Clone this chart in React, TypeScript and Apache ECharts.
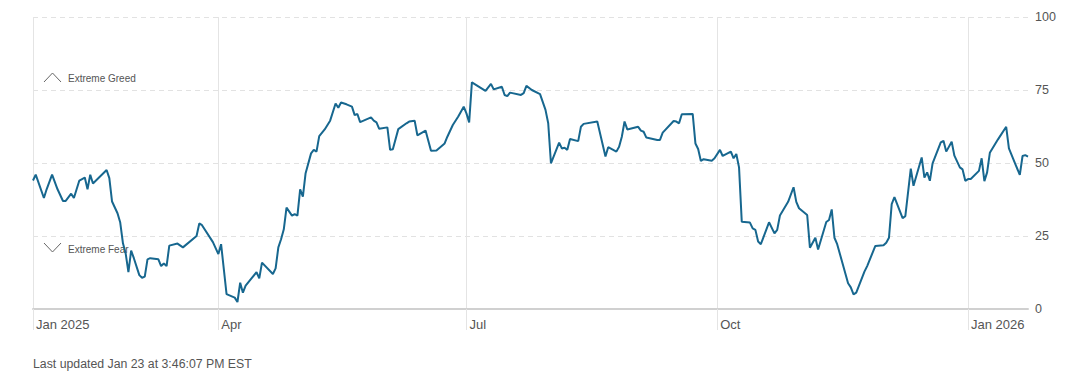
import React, { useEffect, useRef } from "react";
import * as echarts from "echarts";

const FONT = "'Liberation Sans', Arial, Helvetica, sans-serif";
const LINE_COLOR = "#17678f";

// Fear & Greed index, one value per listed date
const jan25Days = [23, 24, 27, 28, 30];
const jan25Vals = [44, 46, 38, 41, 46];
const febDays = [1, 3, 4, 6, 7, 9, 11, 12, 13, 14, 19, 20, 21, 23, 24, 25, 26, 27, 28];
const febVals = [41, 37, 37, 39.5, 38, 44, 45, 41, 46, 43, 47.6, 44.8, 36.8, 32.8, 29.6, 22.5, 19, 12.6, 20];
const marDays = [1, 3, 4, 5, 6, 7, 10, 11, 12, 13, 14, 17, 19, 24, 25, 26, 30];
const marVals = [17.4, 11.6, 10.7, 11.1, 17, 17.4, 17, 14.7, 15.6, 14.7, 21.7, 22.4, 21.1, 25, 29.3, 28.7, 22.9];
const aprDays = [1, 2, 4, 7, 8, 9, 10, 11, 13, 15, 16, 17, 21, 22, 23, 24, 25, 26, 28, 29, 30];
const aprVals = [18.8, 22.2, 5.1, 3.9, 2.4, 9, 5.6, 8, 10.3, 12.6, 10.5, 15.9, 12, 13.9, 21.1, 23.9, 27.3, 34.7, 32, 32.5, 32];
const mayDays = [1, 2, 3, 5, 6, 7, 8, 10, 12, 14, 15, 16, 18, 20, 21, 22, 23, 27, 28, 29, 30];
const mayVals = [41, 38.5, 46.5, 53.3, 54.5, 53.9, 59.2, 61.5, 64.5, 70.4, 68.9, 70.7, 70.1, 69.3, 66.4, 66.8, 64, 65.6, 64.5, 63.9, 61.7];
const junDays = [2, 3, 4, 6, 9, 10, 12, 13, 16, 18, 20, 23, 24, 26, 28, 30];
const junVals = [62.2, 54.5, 54.7, 61.6, 63.6, 64.2, 64.5, 59.5, 61.1, 54.2, 54.3, 56.7, 59, 63, 65.9, 69.3];
const julDays = [1, 2, 3, 8, 10, 11, 14, 15, 16, 17, 21, 22, 23, 25, 28, 30, 31];
const julVals = [67, 63.9, 77.6, 74.7, 77.1, 75.2, 76.1, 73.3, 72.9, 74.1, 73.3, 73.9, 76.4, 75, 73.6, 68.2, 63.6];
const augDays = [1, 4, 5, 6, 7, 8, 11, 12, 13, 18, 21, 22, 25, 26, 27, 28, 29];
const augVals = [49.9, 57, 55, 55.2, 54.5, 58.2, 57.5, 62.4, 63.4, 64.2, 52.2, 55.4, 53.9, 55.6, 59, 64.2, 61.5];
const sepDays = [2, 3, 4, 5, 9, 10, 11, 15, 16, 17, 18, 22, 23, 24, 25, 26, 29, 30];
const sepVals = [62.4, 61.1, 60.7, 58.7, 57.9, 57.9, 60.4, 64.4, 64.2, 63.6, 66.7, 66.8, 56.7, 54.8, 50.7, 51.3, 50.8, 51.6];
const octDays = [2, 3, 6, 7, 8, 9, 10, 13, 14, 15, 16, 17, 20, 22, 23, 24, 27, 29, 30, 31];
const octVals = [54.5, 52.4, 53.9, 51.6, 53.1, 48.5, 29.9, 29.6, 27.6, 27.1, 23.1, 22.2, 29.7, 25.9, 27.1, 32, 36.7, 41.7, 36.7, 34.5];
const novDays = [3, 4, 6, 7, 10, 11, 12, 13, 14, 18, 19, 20, 21, 24, 25, 28];
const novVals = [32.2, 21, 24.4, 20.4, 29.8, 30.5, 34.1, 24.4, 22.2, 8.8, 7.4, 5, 5.6, 12.8, 14.7, 21.6];
const decDays = [1, 2, 3, 4, 5, 8, 9, 11, 12, 15, 16, 17, 18, 19, 22, 23, 24, 26, 27, 29, 30, 31];
const decVals = [21.8, 22.7, 24.4, 35.9, 38.3, 31.1, 31.8, 48.1, 42.2, 51.9, 45, 46.8, 43.9, 49.9, 57.1, 57.6, 53.9, 57.3, 52.5, 48.5, 47.8, 43.9];
const jan26Days = [1, 2, 5, 6, 7, 8, 9, 12, 15, 16, 20, 21, 22, 23];
const jan26Vals = [44.5, 44.5, 47.3, 51.6, 43.8, 46.8, 53.5, 58.1, 62.4, 55, 45.9, 52.4, 52.7, 52.2];

const months: [number, number, number[], number[]][] = [
  [2025, 1, jan25Days, jan25Vals],
  [2025, 2, febDays, febVals],
  [2025, 3, marDays, marVals],
  [2025, 4, aprDays, aprVals],
  [2025, 5, mayDays, mayVals],
  [2025, 6, junDays, junVals],
  [2025, 7, julDays, julVals],
  [2025, 8, augDays, augVals],
  [2025, 9, sepDays, sepVals],
  [2025, 10, octDays, octVals],
  [2025, 11, novDays, novVals],
  [2025, 12, decDays, decVals],
  [2026, 1, jan26Days, jan26Vals],
];

const xMin = "2025-01-23";
const xMax = "2026-01-23";
const tickDates = ["2025-01-23", "2025-04-01", "2025-07-01", "2025-10-01", "2026-01-01"];
const tickLabels = ["Jan 2025", "Apr", "Jul", "Oct", "Jan 2026"];
const yTicks = [0, 25, 50, 75, 100];

const pad = (n: number) => (n < 10 ? "0" + n : "" + n);
const toTs = (s: string) => {
  const [y, m, d] = s.split("-").map(Number);
  return Date.UTC(y, m - 1, d);
};

export default function App() {
  const ref = useRef<HTMLDivElement>(null);
  useEffect(() => {
    if (!ref.current) return;
    const chart = echarts.init(ref.current, undefined, { renderer: "svg" });
    const data: [number, number][] = [];
    months.forEach(([y, m, days, vals]) => {
      days.forEach((d, i) => {
        data.push([toTs(`${y}-${pad(m)}-${pad(d)}`), vals[i]]);
      });
    });
    const tickTs = tickDates.map(toTs);
    const labelFor = (v: number) => {
      const idx = tickTs.findIndex((t) => Math.abs(t - v) < 43200000);
      return idx >= 0 ? tickLabels[idx] : "";
    };
    chart.setOption({
      animation: false,
      grid: { left: 33, right: 42, top: 17, bottom: 73, containLabel: false },
      xAxis: {
        type: "value",
        min: toTs(xMin),
        max: toTs(xMax),
        axisLine: { show: true, onZero: false, lineStyle: { color: "#d0d0d0", width: 2 } },
        axisTick: {
          show: true,
          customValues: tickTs,
          length: 21,
          inside: false,
          lineStyle: { color: "#e4e4e4", width: 1 },
        },
        splitLine: { show: true, lineStyle: { color: "#e4e4e4", width: 1 } },
        axisLabel: {
          customValues: tickTs,
          formatter: (v: number) => labelFor(v),
          align: "left",
          padding: [0, 0, 0, 3],
          margin: 9,
          color: "#555",
          fontSize: 13,
          fontFamily: FONT,
          hideOverlap: false,
          showMinLabel: true,
          showMaxLabel: true,
        },
      },
      yAxis: {
        type: "value",
        position: "right",
        min: yTicks[0],
        max: yTicks[yTicks.length - 1],
        interval: 25,
        axisLine: { show: false },
        axisTick: { show: false },
        splitLine: { show: true, lineStyle: { color: "#e2e2e2", type: [5, 4], width: 1 } },
        axisLabel: { margin: 7, color: "#555", fontSize: 12.5, fontFamily: FONT },
      },
      series: [
        {
          type: "line",
          data,
          showSymbol: false,
          symbol: "none",
          lineStyle: { color: LINE_COLOR, width: 2 },
          z: 5,
        },
      ],
      graphic: [
        { type: "polyline", z: 1, shape: { points: [[44, 82], [52.5, 73], [61, 82]] }, style: { stroke: "#666", fill: null, lineWidth: 1 } },
        { type: "text", z: 1, x: 68, y: 78, style: { text: "Extreme Greed", fill: "#555", fontSize: 10, fontFamily: FONT, verticalAlign: "middle" } },
        { type: "polyline", z: 1, shape: { points: [[44, 243], [52.5, 252], [61, 243]] }, style: { stroke: "#666", fill: null, lineWidth: 1 } },
        { type: "text", z: 1, x: 68, y: 249, style: { text: "Extreme Fear", fill: "#555", fontSize: 10, fontFamily: FONT, verticalAlign: "middle" } },
        { type: "text", x: 33, y: 364, style: { text: "Last updated Jan 23 at 3:46:07 PM EST", fill: "#555", fontSize: 12.3, fontFamily: FONT, verticalAlign: "middle" } },
      ],
    });
    return () => chart.dispose();
  }, []);
  return (
    <div
      ref={ref}
      style={{ position: "absolute", left: 0, top: 0, width: 1070, height: 382, background: "#fff" }}
    />
  );
}
